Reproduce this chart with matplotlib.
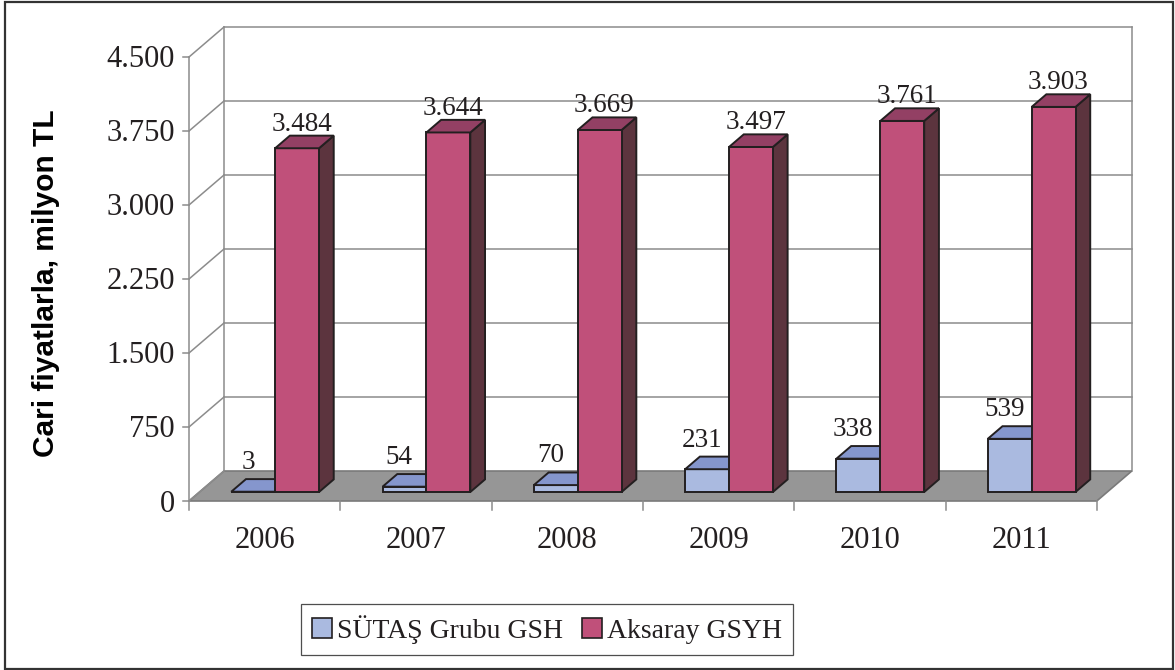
import matplotlib.pyplot as plt
from matplotlib.patches import Polygon, Rectangle, Patch

# data
years = ['2006', '2007', '2008', '2009', '2010', '2011']
sutas = [3, 54, 70, 231, 338, 539]
aksaray = [3484, 3644, 3669, 3497, 3761, 3903]
y_ticks = [0, 750, 1500, 2250, 3000, 3750, 4500]
y_tick_labels = ['0', '750', '1.500', '2.250', '3.000', '3.750', '4.500']
series_names = ['SÜTAŞ Grubu GSH', 'Aksaray GSYH']

# colours (front, top, side)
blue = ('#AABAE0', '#8596CD', '#6F7FB0')
pink = ('#C0507A', '#934064', '#5C343E')
edge = '#231F20'
grid = '#8C8C8C'

plt.rcParams['font.family'] = ['Liberation Serif', 'DejaVu Serif']

# layout of the fake 3d box, in pixels
W, H = 1175, 670
left_px, floor_px = 189, 501     # front-left corner of floor
cat_px = 151.3                   # one category, px
val_px = 74.0 / 750              # px per value unit
DX = 35 / cat_px                 # depth offset of back wall, x units
DY = 30 / val_px                 # depth offset of back wall, value units


def proj(x, v, d):
    return (x + d * DX, v + d * DY)


def px_dx(p):
    return p / cat_px


def px_dv(p):
    return p / val_px


fig = plt.figure(figsize=(W / 100, H / 100), dpi=100)
ax = fig.add_axes([0, 0, 1, 1])
x0 = -0.5 - left_px / cat_px
ax.set_xlim(x0, x0 + W / cat_px)
ax.set_ylim(-(H - floor_px) / val_px, floor_px / val_px)
ax.axis('off')

n = len(years)
xl, xr = -0.5, n - 0.5
top = y_ticks[-1]

# floor
floor = [proj(xl, 0, 0), proj(xr, 0, 0), proj(xr, 0, 1), proj(xl, 0, 1)]
ax.add_patch(Polygon(floor, closed=True, facecolor='#969696',
                     edgecolor='#7A7A7A', lw=1.2, zorder=1))

# back wall grid + left wall diagonals
for v in y_ticks:
    a, b = proj(xl, v, 1), proj(xr, v, 1)
    if v > 0:
        ax.plot([a[0], b[0]], [a[1], b[1]], color=grid, lw=1.1, zorder=0.5)
    f = proj(xl, v, 0)
    ax.plot([f[0], a[0]], [f[1], a[1]], color=grid, lw=1.1, zorder=1.5)
    # left tick
    ax.plot([f[0] - px_dx(6), f[0]], [f[1], f[1]], color=grid, lw=1.1)
    ax.text(f[0] - px_dx(14), f[1] - px_dv(3), y_tick_labels[int(y_ticks.index(v))],
            ha='right', va='center', fontsize=22, color=edge)

for xx in (xl, xr):
    a, b = proj(xx, 0, 1), proj(xx, top, 1)
    ax.plot([a[0], b[0]], [a[1], b[1]], color=grid, lw=1.1, zorder=0.5)
a, b = proj(xl, 0, 0), proj(xl, top, 0)
ax.plot([a[0], b[0]], [a[1], b[1]], color=grid, lw=1.1, zorder=1.5)

# category ticks below floor
for k in range(n + 1):
    ax.plot([xl + k, xl + k], [0, -px_dv(9)], color=grid, lw=1.1)

for i, yr in enumerate(years):
    ax.text(i, -px_dv(40), yr, ha='center', va='center', fontsize=22, color=edge)

# bars
bw = 0.29
d0, d1 = 0.3, 0.72


def bar3d(xa, xb, v, cols):
    side = [proj(xb, 0, d0), proj(xb, 0, d1), proj(xb, v, d1), proj(xb, v, d0)]
    front = [proj(xa, 0, d0), proj(xb, 0, d0), proj(xb, v, d0), proj(xa, v, d0)]
    cap = [proj(xa, v, d0), proj(xb, v, d0), proj(xb, v, d1), proj(xa, v, d1)]
    for poly, c in ((side, cols[2]), (front, cols[0]), (cap, cols[1])):
        ax.add_patch(Polygon(poly, closed=True, facecolor=c, edgecolor=edge,
                             lw=1.4, joinstyle='miter', zorder=3))


for i in range(n):
    bar3d(i - bw, i, sutas[i], blue)
    bar3d(i, i + bw, aksaray[i], pink)
    lx, ly = proj(i - 0.11, sutas[i], d1)
    ax.text(i - 0.11, ly + px_dv(10), str(sutas[i]), ha='center', va='baseline',
            fontsize=19.5, color=edge, zorder=4)
    lx, ly = proj(i + bw / 2, aksaray[i], d1)
    ax.text(i + bw / 2 + 0.43 * DX, ly + px_dv(5), f'{aksaray[i] / 1000:.3f}',
            ha='center', va='baseline', fontsize=19.5, color=edge, zorder=4)

ax.text(x0 + px_dx(46), (floor_px - 283) / val_px, 'Cari fiyatlarla, milyon TL',
        rotation=90, ha='center', va='center', fontsize=21.5, fontweight='bold',
        family=['Liberation Sans', 'DejaVu Sans'], color='black')

# legend
handles = [Patch(facecolor=blue[0], edgecolor=edge, lw=1.2),
           Patch(facecolor=pink[0], edgecolor=edge, lw=1.2)]
leg = fig.legend(handles, series_names, loc='center', ncol=2,
                 bbox_to_anchor=(547 / W, 1 - 629.5 / H), fontsize=20,
                 frameon=True, fancybox=False, shadow=False,
                 handlelength=0.72, handleheight=0.72, handletextpad=0.2,
                 columnspacing=0.65, borderpad=0.4, borderaxespad=0)
leg.get_frame().set_edgecolor('#222222')
leg.get_frame().set_linewidth(0.9)
for t in leg.get_texts():
    t.set_color(edge)

# outer border
fig.patches.append(Rectangle((5 / W, 1 / H), 1168 / W, 667 / H, transform=fig.transFigure,
                             fill=False, edgecolor='#333333', lw=1.6))

fig.savefig('out.png', dpi=100)
